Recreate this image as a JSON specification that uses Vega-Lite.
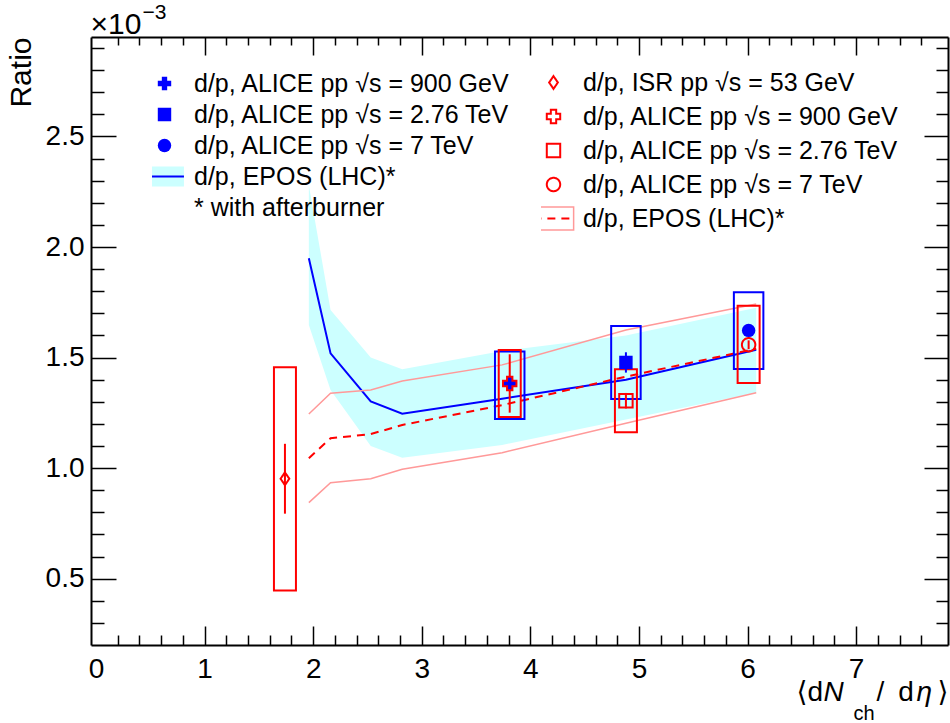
{
  "$schema": "https://vega.github.io/schema/vega-lite/v6.json",
  "width": 857,
  "height": 608,
  "autosize": {"type": "none"},
  "padding": {"left": 91, "top": 37, "right": 2, "bottom": 78},
  "background": "white",
  "datasets": {
    "epos_blue": [
      {"label": "d/p, EPOS (LHC)*", "x": 1.96, "mid": 1.949, "lo": 1.647, "hi": 2.28},
      {"label": "d/p, EPOS (LHC)*", "x": 2.16, "mid": 1.519, "lo": 1.353, "hi": 1.715},
      {"label": "d/p, EPOS (LHC)*", "x": 2.53, "mid": 1.302, "lo": 1.1, "hi": 1.5},
      {"label": "d/p, EPOS (LHC)*", "x": 2.82, "mid": 1.246, "lo": 1.047, "hi": 1.447},
      {"label": "d/p, EPOS (LHC)*", "x": 3.74, "mid": 1.314, "lo": 1.105, "hi": 1.53},
      {"label": "d/p, EPOS (LHC)*", "x": 4.88, "mid": 1.4, "lo": 1.22, "hi": 1.6},
      {"label": "d/p, EPOS (LHC)*", "x": 6.08, "mid": 1.535, "lo": 1.341, "hi": 1.725}
    ],
    "epos_red": [
      {"label": "d/p, EPOS (LHC)*", "x": 1.96, "mid": 1.045, "lo": 0.844, "hi": 1.245},
      {"label": "d/p, EPOS (LHC)*", "x": 2.16, "mid": 1.135, "lo": 0.934, "hi": 1.339},
      {"label": "d/p, EPOS (LHC)*", "x": 2.53, "mid": 1.154, "lo": 0.952, "hi": 1.353},
      {"label": "d/p, EPOS (LHC)*", "x": 2.82, "mid": 1.195, "lo": 0.995, "hi": 1.394},
      {"label": "d/p, EPOS (LHC)*", "x": 3.74, "mid": 1.285, "lo": 1.07, "hi": 1.467},
      {"label": "d/p, EPOS (LHC)*", "x": 4.88, "mid": 1.414, "lo": 1.203, "hi": 1.625},
      {"label": "d/p, EPOS (LHC)*", "x": 6.08, "mid": 1.54, "lo": 1.341, "hi": 1.742}
    ],
    "blue": [
      {"label": "d/p, ALICE pp √s = 900 GeV", "x": 3.81, "y": 1.382, "stat": 0.03, "sys_lo": 1.222, "sys_hi": 1.528},
      {"label": "d/p, ALICE pp √s = 2.76 TeV", "x": 4.88, "y": 1.478, "stat": 0.046, "sys_lo": 1.313, "sys_hi": 1.643},
      {"label": "d/p, ALICE pp √s = 7 TeV", "x": 6.01, "y": 1.623, "stat": 0.025, "sys_lo": 1.448, "sys_hi": 1.795}
    ],
    "red": [
      {"label": "d/p, ISR pp √s = 53 GeV", "x": 1.74, "y": 0.952, "stat": 0.158, "sys_lo": 0.446, "sys_hi": 1.456},
      {"label": "d/p, ALICE pp √s = 900 GeV", "x": 3.81, "y": 1.383, "stat": 0.132, "sys_lo": 1.231, "sys_hi": 1.534},
      {"label": "d/p, ALICE pp √s = 2.76 TeV", "x": 4.88, "y": 1.305, "stat": 0.035, "sys_lo": 1.162, "sys_hi": 1.447},
      {"label": "d/p, ALICE pp √s = 7 TeV", "x": 6.01, "y": 1.558, "stat": 0.02, "sys_lo": 1.385, "sys_hi": 1.735}
    ]
  },
  "resolve": {
    "scale": {"color": "independent", "shape": "independent", "strokeDash": "independent"},
    "axis": {"x": "independent", "y": "independent"}
  },
  "layer": [
    {
      "data": {"name": "epos_blue"},
      "mark": {"type": "area", "opacity": 1, "fillOpacity": 1},
      "encoding": {
        "x": {"field": "x", "type": "quantitative", "scale": {"domain": [0, 7.8], "nice": false, "zero": false},
          "axis": {"orient": "bottom", "values": [0, 1, 2, 3, 4, 5, 6, 7], "format": "d", "ticks": false, "domain": true, "labels": true, "labelPadding": 10,
            "title": "⟨d", "titleX": 705, "titleY": 55, "titleAlign": "left", "titleBaseline": "alphabetic", "titleFontSize": 28}},
        "y": {"field": "lo", "type": "quantitative", "scale": {"domain": [0.2, 2.95], "nice": false, "zero": false},
          "axis": {"orient": "left", "values": [0.5, 1, 1.5, 2, 2.5], "format": ".1f", "ticks": false, "domain": true, "labels": true, "labelPadding": 7,
            "title": "Ratio", "titleFontSize": 30, "titleX": -61, "titleY": 0, "titleAngle": 270, "titleAlign": "right", "titleBaseline": "alphabetic"}},
        "y2": {"field": "hi"},
        "color": {"field": "label", "type": "nominal",
          "scale": {"domain": ["d/p, ALICE pp √s = 900 GeV", "d/p, ALICE pp √s = 2.76 TeV", "d/p, ALICE pp √s = 7 TeV", "d/p, EPOS (LHC)*", "* with afterburner"],
            "range": ["transparent", "transparent", "transparent", "#ccffff", "transparent"]},
          "legend": {"orient": "none", "legendX": 61, "legendY": 34, "title": null, "direction": "vertical", "columns": 1, "padding": 0, "rowPadding": 5, "clipHeight": 25,
            "labelFontSize": 25, "labelFont": "Liberation Sans", "labelLimit": 0, "labelOffset": 17, "labelOpacity": 0,
            "symbolType": "M-2.9,-1.5H2.9V1.5H-2.9Z", "symbolSize": 180, "symbolStrokeWidth": 0, "symbolOpacity": 1}}
      }
    },
    {
      "data": {"name": "epos_blue"},
      "mark": {"type": "line", "color": "#0000ff", "strokeWidth": 2},
      "encoding": {
        "x": {"field": "x", "type": "quantitative", "scale": {"domain": [0, 7.8], "nice": false, "zero": false},
          "axis": {"orient": "bottom", "values": [1, 2, 3, 4, 5, 6, 7], "labels": false, "domain": false, "ticks": true, "tickSize": -19,
            "title": "N", "titleFontStyle": "italic", "titleFontSize": 28, "titleX": 732, "titleY": 55, "titleAlign": "left", "titleBaseline": "alphabetic"}},
        "y": {"field": "mid", "type": "quantitative", "scale": {"domain": [0.2, 2.95], "nice": false, "zero": false},
          "axis": {"orient": "left", "values": [0.5, 1, 1.5, 2, 2.5], "labels": false, "domain": false, "ticks": true, "tickSize": -25,
            "title": "⟩", "titleFontSize": 28, "titleX": 857, "titleY": 663, "titleAngle": 0, "titleAlign": "right", "titleBaseline": "alphabetic"}}
      }
    },
    {
      "data": {"name": "epos_red"},
      "transform": [{"fold": ["lo", "hi"], "as": ["bound", "val"]}],
      "mark": {"type": "line", "strokeWidth": 1.5},
      "encoding": {
        "x": {"field": "x", "type": "quantitative", "scale": {"domain": [0, 7.8], "nice": false, "zero": false},
          "axis": {"orient": "bottom", "values": [0.2, 0.4, 0.6, 0.8, 1.2, 1.4, 1.6, 1.8, 2.2, 2.4, 2.6, 2.8, 3.2, 3.4, 3.6, 3.8, 4.2, 4.4, 4.6, 4.8, 5.2, 5.4, 5.6, 5.8, 6.2, 6.4, 6.6, 6.8, 7.2, 7.4, 7.6],
            "labels": false, "domain": false, "ticks": true, "tickSize": -10,
            "title": "ch", "titleFontSize": 20, "titleX": 762, "titleY": 74, "titleAlign": "left", "titleBaseline": "alphabetic"}},
        "y": {"field": "val", "type": "quantitative", "scale": {"domain": [0.2, 2.95], "nice": false, "zero": false},
          "axis": {"orient": "left", "values": [0.3, 0.4, 0.6, 0.7, 0.8, 0.9, 1.1, 1.2, 1.3, 1.4, 1.6, 1.7, 1.8, 1.9, 2.1, 2.2, 2.3, 2.4, 2.6, 2.7, 2.8, 2.9],
            "labels": false, "domain": false, "ticks": true, "tickSize": -13,
            "title": "−3", "titleFontSize": 21, "titleX": 51, "titleY": -19, "titleAngle": 0, "titleAlign": "left", "titleBaseline": "alphabetic"}},
        "detail": {"field": "bound"},
        "color": {"field": "label", "type": "nominal",
          "scale": {"domain": ["d/p, ISR pp √s = 53 GeV", "d/p, ALICE pp √s = 900 GeV", "d/p, ALICE pp √s = 2.76 TeV", "d/p, ALICE pp √s = 7 TeV", "d/p, EPOS (LHC)*"],
            "range": ["transparent", "transparent", "transparent", "transparent", "#ff9999"]},
          "legend": {"orient": "none", "legendX": 450, "legendY": 33, "title": null, "direction": "vertical", "columns": 1, "padding": 0, "rowPadding": 8, "clipHeight": 25,
            "labelFontSize": 25, "labelFont": "Liberation Sans", "labelLimit": 0, "labelOffset": 17, "labelOpacity": 0,
            "symbolType": "M-3,-1.7H3V1.7H-3Z", "symbolSize": 180, "symbolStrokeWidth": 1.5, "symbolFillColor": "transparent", "symbolOpacity": 1}}
      }
    },
    {
      "data": {"name": "epos_red"},
      "mark": {"type": "line", "color": "#ff0000", "strokeWidth": 2, "strokeDash": [8, 6]},
      "encoding": {
        "x": {"field": "x", "type": "quantitative", "scale": {"domain": [0, 7.8], "nice": false, "zero": false},
          "axis": {"orient": "top", "values": [1, 2, 3, 4, 5, 6, 7], "labels": false, "domain": true, "ticks": true, "tickSize": -18,
            "title": "/\u2002d", "titleFontSize": 28, "titleX": 785, "titleY": 663, "titleAlign": "left", "titleBaseline": "alphabetic"}},
        "y": {"field": "mid", "type": "quantitative", "scale": {"domain": [0.2, 2.95], "nice": false, "zero": false},
          "axis": {"orient": "right", "values": [0.5, 1, 1.5, 2, 2.5], "labels": false, "domain": true, "ticks": true, "tickSize": -24,
            "title": "×10", "titleFontSize": 30, "titleX": -858, "titleY": -4, "titleAngle": 0, "titleAlign": "left", "titleBaseline": "alphabetic"}}
      }
    },
    {
      "data": {"name": "blue"},
      "mark": {"type": "bar", "width": 29.5, "filled": false, "color": "#0000ff", "strokeWidth": 2},
      "encoding": {
        "x": {"field": "x", "type": "quantitative", "scale": {"domain": [0, 7.8], "nice": false, "zero": false},
          "axis": {"orient": "top", "values": [0.2, 0.4, 0.6, 0.8, 1.2, 1.4, 1.6, 1.8, 2.2, 2.4, 2.6, 2.8, 3.2, 3.4, 3.6, 3.8, 4.2, 4.4, 4.6, 4.8, 5.2, 5.4, 5.6, 5.8, 6.2, 6.4, 6.6, 6.8, 7.2, 7.4, 7.6],
            "labels": false, "domain": false, "ticks": true, "tickSize": -8,
            "title": "η", "titleFontStyle": "italic", "titleFontSize": 28, "titleX": 825, "titleY": 663, "titleAlign": "left", "titleBaseline": "alphabetic"}},
        "y": {"field": "sys_lo", "type": "quantitative", "scale": {"domain": [0.2, 2.95], "nice": false, "zero": false},
          "axis": {"orient": "right", "values": [0.3, 0.4, 0.6, 0.7, 0.8, 0.9, 1.1, 1.2, 1.3, 1.4, 1.6, 1.7, 1.8, 1.9, 2.1, 2.2, 2.3, 2.4, 2.6, 2.7, 2.8, 2.9],
            "labels": false, "domain": false, "ticks": true, "tickSize": -12, "title": null}},
        "y2": {"field": "sys_hi"}
      }
    },
    {
      "data": {"name": "red"},
      "mark": {"type": "bar", "width": 22, "filled": false, "color": "#ff0000", "strokeWidth": 2},
      "encoding": {
        "x": {"field": "x", "type": "quantitative", "scale": {"domain": [0, 7.8], "nice": false, "zero": false}, "axis": null},
        "y": {"field": "sys_lo", "type": "quantitative", "scale": {"domain": [0.2, 2.95], "nice": false, "zero": false}, "axis": null},
        "y2": {"field": "sys_hi"}
      }
    },
    {
      "data": {"name": "blue"},
      "mark": {"type": "errorbar", "ticks": false, "thickness": 2, "color": "#0000ff"},
      "encoding": {
        "x": {"field": "x", "type": "quantitative", "scale": {"domain": [0, 7.8], "nice": false, "zero": false}, "axis": null},
        "y": {"field": "y", "type": "quantitative", "scale": {"domain": [0.2, 2.95], "nice": false, "zero": false}, "axis": null},
        "yError": {"field": "stat"}
      }
    },
    {
      "data": {"name": "red"},
      "mark": {"type": "errorbar", "ticks": false, "thickness": 2, "color": "#ff0000"},
      "encoding": {
        "x": {"field": "x", "type": "quantitative", "scale": {"domain": [0, 7.8], "nice": false, "zero": false}, "axis": null},
        "y": {"field": "y", "type": "quantitative", "scale": {"domain": [0.2, 2.95], "nice": false, "zero": false}, "axis": null},
        "yError": {"field": "stat"}
      }
    },
    {
      "data": {"name": "blue"},
      "mark": {"type": "point", "filled": true, "size": 180, "opacity": 1, "strokeWidth": 0},
      "encoding": {
        "x": {"field": "x", "type": "quantitative", "scale": {"domain": [0, 7.8], "nice": false, "zero": false}, "axis": null},
        "y": {"field": "y", "type": "quantitative", "scale": {"domain": [0.2, 2.95], "nice": false, "zero": false}, "axis": null},
        "color": {"field": "label", "type": "nominal",
          "scale": {"domain": ["d/p, ALICE pp √s = 900 GeV", "d/p, ALICE pp √s = 2.76 TeV", "d/p, ALICE pp √s = 7 TeV", "d/p, EPOS (LHC)*", "* with afterburner"],
            "range": ["#0000ff", "#0000ff", "#0000ff", "#0000ff", "transparent"]},
          "legend": {"orient": "none", "legendX": 61, "legendY": 34, "title": null, "direction": "vertical", "columns": 1, "padding": 0, "rowPadding": 5, "clipHeight": 25,
            "labelFontSize": 25, "labelFont": "Liberation Sans", "labelColor": "#000000", "labelLimit": 0, "labelOffset": 17,
            "symbolSize": 180, "symbolStrokeWidth": 0, "symbolOpacity": 1}},
        "shape": {"field": "label", "type": "nominal",
          "scale": {"domain": ["d/p, ALICE pp √s = 900 GeV", "d/p, ALICE pp √s = 2.76 TeV", "d/p, ALICE pp √s = 7 TeV", "d/p, EPOS (LHC)*", "* with afterburner"],
            "range": ["cross", "square", "circle", "M-2.9,-0.15H2.9V0.15H-2.9Z", "M0,0"]},
          "legend": {"title": null}}
      }
    },
    {
      "data": {"name": "red"},
      "mark": {"type": "point", "filled": false, "size": 180, "opacity": 1, "strokeWidth": 2},
      "encoding": {
        "x": {"field": "x", "type": "quantitative", "scale": {"domain": [0, 7.8], "nice": false, "zero": false}, "axis": null},
        "y": {"field": "y", "type": "quantitative", "scale": {"domain": [0.2, 2.95], "nice": false, "zero": false}, "axis": null},
        "color": {"field": "label", "type": "nominal",
          "scale": {"domain": ["d/p, ISR pp √s = 53 GeV", "d/p, ALICE pp √s = 900 GeV", "d/p, ALICE pp √s = 2.76 TeV", "d/p, ALICE pp √s = 7 TeV", "d/p, EPOS (LHC)*"],
            "range": ["#ff0000", "#ff0000", "#ff0000", "#ff0000", "#ff0000"]},
          "legend": {"orient": "none", "legendX": 450, "legendY": 33, "title": null, "direction": "vertical", "columns": 1, "padding": 0, "rowPadding": 8, "clipHeight": 25,
            "labelFontSize": 25, "labelFont": "Liberation Sans", "labelColor": "#000000", "labelLimit": 0, "labelOffset": 17,
            "symbolSize": 180, "symbolStrokeWidth": 2, "symbolOpacity": 1}},
        "shape": {"field": "label", "type": "nominal",
          "scale": {"domain": ["d/p, ISR pp √s = 53 GeV", "d/p, ALICE pp √s = 900 GeV", "d/p, ALICE pp √s = 2.76 TeV", "d/p, ALICE pp √s = 7 TeV", "d/p, EPOS (LHC)*"],
            "range": ["M0,-0.95L0.65,0L0,0.95L-0.65,0Z", "cross", "square", "circle", "M-3,0H3"]},
          "legend": {"title": null}},
        "strokeDash": {"field": "label", "type": "nominal",
          "scale": {"domain": ["d/p, ISR pp √s = 53 GeV", "d/p, ALICE pp √s = 900 GeV", "d/p, ALICE pp √s = 2.76 TeV", "d/p, ALICE pp √s = 7 TeV", "d/p, EPOS (LHC)*"],
            "range": [[1, 0], [1, 0], [1, 0], [1, 0], [8, 6]]},
          "legend": {"title": null}}
      }
    }
  ],
  "config": {
    "font": "Liberation Sans",
    "view": {"stroke": null},
    "axis": {
      "grid": false,
      "domainColor": "#000000",
      "domainWidth": 2,
      "tickColor": "#000000",
      "tickWidth": 1.5,
      "labelColor": "#000000",
      "labelFont": "Liberation Sans",
      "labelFontSize": 28,
      "labelFlush": false,
      "labelOverlap": false,
      "titleFont": "Liberation Sans, DejaVu Sans",
      "titleColor": "#000000",
      "titleFontWeight": "normal",
      "titlePadding": 0
    },
    "legend": {
      "labelColor": "#000000",
      "labelFont": "Liberation Sans"
    }
  }
}
